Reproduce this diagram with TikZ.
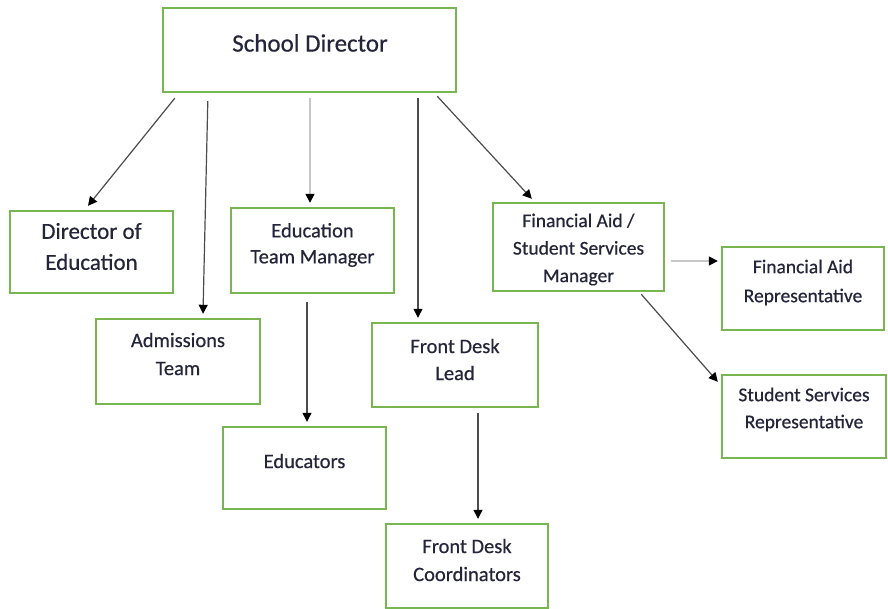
\documentclass[tikz,border=0pt]{standalone}
\usepackage{fontspec}
\setmainfont{Carlito}[FakeBold=0.5]
\usetikzlibrary{calc,arrows.meta}
\definecolor{boxgreen}{HTML}{78B652}
\definecolor{txtcol}{HTML}{24243A}
\begin{document}
\begin{tikzpicture}[x=1pt,y=-1pt,
  box/.style={draw=boxgreen,line width=2.4pt,fill=white,rectangle,inner sep=0pt},
  txt/.style={align=center,text=txtcol,font=\fontsize{20.5}{28}\selectfont,inner sep=0pt},
  conn/.style={draw=black!70,line width=1.2pt,-{Triangle[length=9pt,width=9pt,color=black]}},
  lconn/.style={draw=black!22,line width=1.6pt,-{Triangle[length=9pt,width=9pt,color=black]}}]
\useasboundingbox[fill=white] (0,0) rectangle (888,609);
% boxes
\node[box,minimum width=293pt,minimum height=84pt] (sd) at (309.5,50) {};
\node[box,minimum width=163pt,minimum height=82pt] (doe) at (91.5,252) {};
\node[box,minimum width=164pt,minimum height=85pt] (adm) at (178,361.5) {};
\node[box,minimum width=163pt,minimum height=85pt] (etm) at (312.5,250.5) {};
\node[box,minimum width=163pt,minimum height=82pt] (edu) at (304.5,468) {};
\node[box,minimum width=166pt,minimum height=84pt] (fdl) at (455,365) {};
\node[box,minimum width=162pt,minimum height=84pt] (fdc) at (467,566) {};
\node[box,minimum width=171pt,minimum height=88pt] (fam) at (578.5,247) {};
\node[box,minimum width=162pt,minimum height=83pt] (far) at (803,288.5) {};
\node[box,minimum width=164pt,minimum height=83pt] (ssr) at (804,416.5) {};
% texts
\node[txt,font=\fontsize{25}{28}\selectfont] (tsd) at (310,43) {School Director};
\node[txt,font=\fontsize{23}{31}\selectfont] (tdoe) at (91.5,246.5) {Director of\\Education};
\node[txt] (tadm) at (178,354) {Admissions\\Team};
\node[txt,font=\fontsize{20.5}{26}\selectfont] (tetm) at (312.5,245) {Education\\Team Manager};
\node[txt] (tedu) at (304.5,461) {Educators};
\node[txt,font=\fontsize{20.5}{27}\selectfont] (tfdl) at (455,359.5) {Front Desk\\Lead};
\node[txt] (tfdc) at (467,560) {Front Desk\\Coordinators};
\node[txt,font=\fontsize{19.5}{27.5}\selectfont] (tfam) at (578.5,249.5) {Financial Aid /\\Student Services\\Manager};
\node[txt,font=\fontsize{19.5}{29}\selectfont] (tfar) at (803,282.5) {Financial Aid\\Representative};
\node[txt,font=\fontsize{19.5}{27}\selectfont] (tssr) at (804,409.5) {Student Services\\Representative};
% connectors
\draw[conn] ($(sd.south west)+(13,5)$) -- ($(doe.north)+(-3.5,-4)$);
\draw[conn] ($(sd.south west)+(46,8)$) -- ($(adm.north)+(25,-4)$);
\draw[lconn] ($(sd.south)+(0.5,5)$) -- ($(etm.north)+(-2.5,-4)$);
\draw[conn] ($(sd.south)+(108.5,5)$) -- ($(fdl.north)+(-37,-4)$);
\draw[conn] ($(sd.south east)+(-20,3)$) -- ($(fam.north west)+(40,-3)$);
\draw[lconn] ($(fam.east)+(6,14)$) -- ($(far.west)+(-3,-27.5)$);
\draw[conn] ($(fam.south east)+(-24,2)$) -- ($(ssr.north west)+(-3,8)$);
\draw[conn] ($(etm.south)+(-5.5,8)$) -- ($(edu.north)+(2.5,-4)$);
\draw[conn] ($(fdl.south)+(23,5)$) -- ($(fdc.north)+(11,-4)$);
\end{tikzpicture}
\end{document}
